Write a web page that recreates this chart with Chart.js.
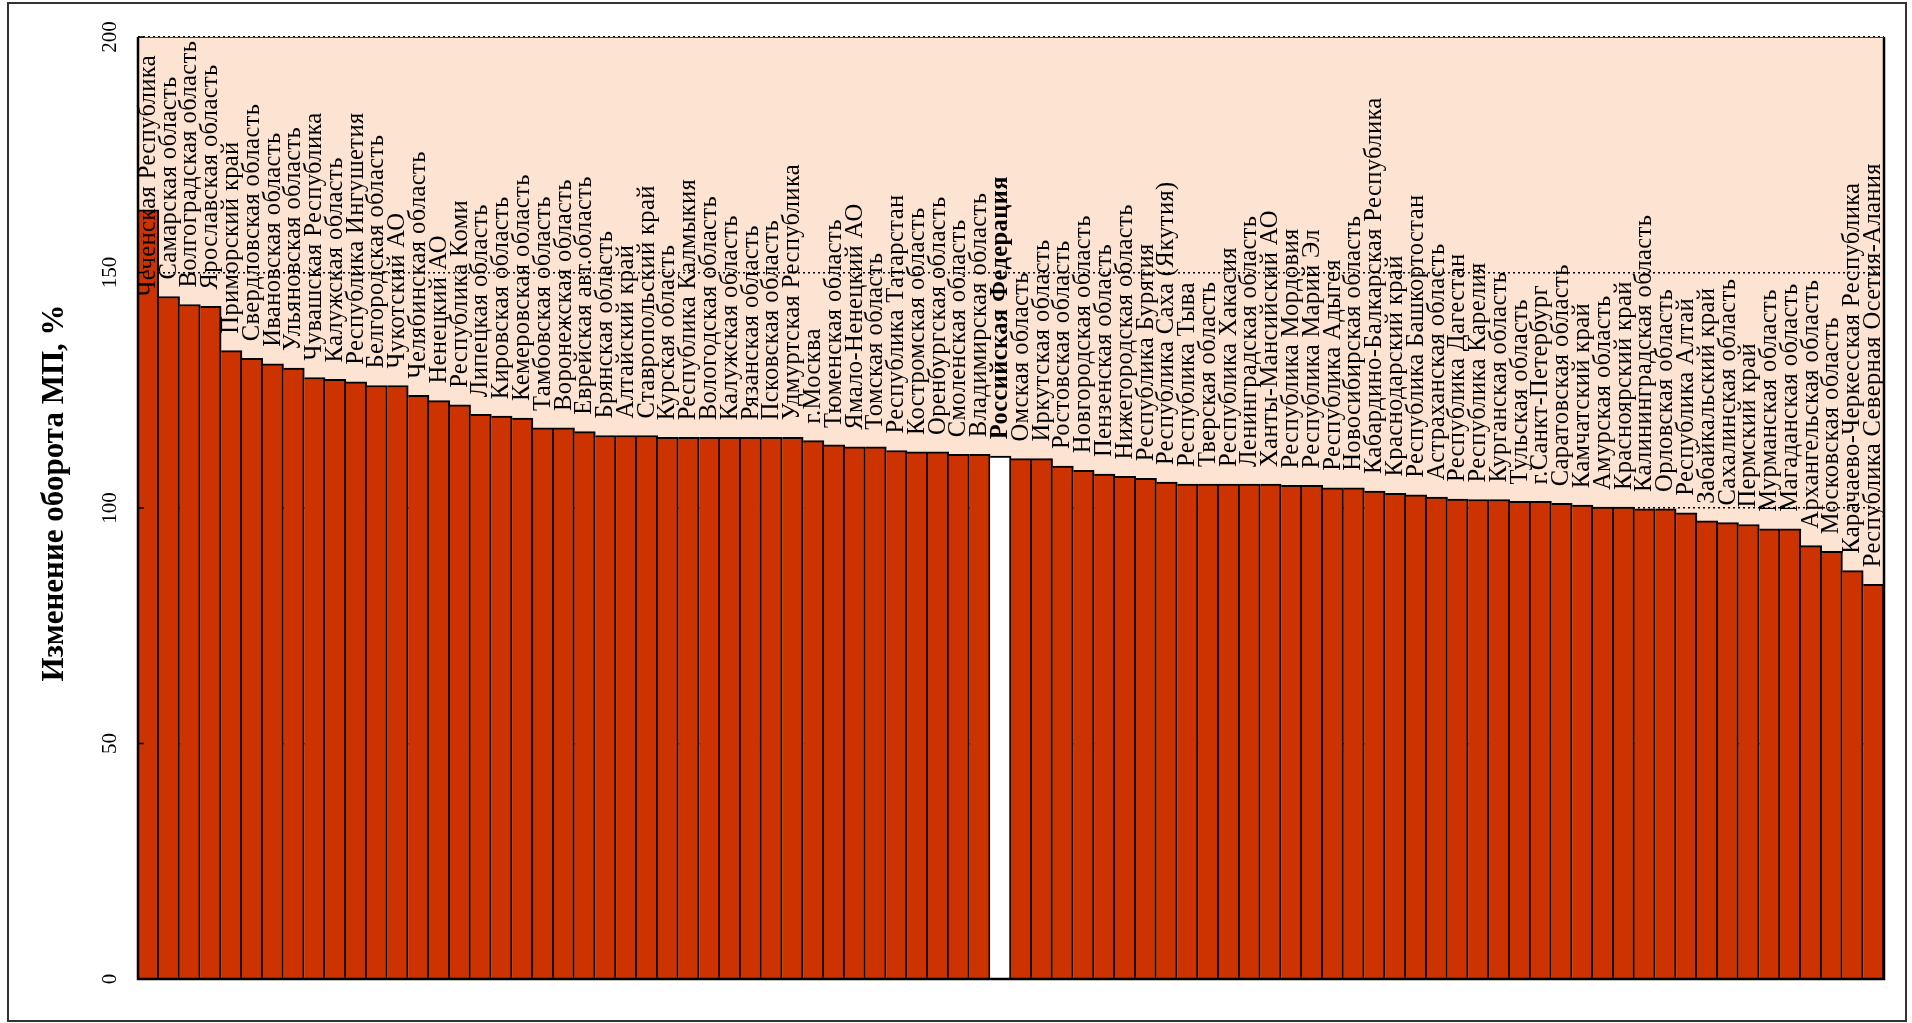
<!DOCTYPE html>
<html>
<head>
<meta charset="utf-8">
<script src="https://cdn.jsdelivr.net/npm/chart.js@4.4.1/dist/chart.umd.min.js"></script>
<style>
  html, body { margin: 0; padding: 0; background: #fff; }
  #wrap { width: 1912px; height: 1023px; position: relative; }
</style>
</head>
<body>
<div id="wrap"><canvas id="chart"></canvas></div>
<script>
// регионы, отсортированные по изменению оборота МП
const regions = [
  'Чеченская Республика', 'Самарская область', 'Волгоградская область', 'Ярославская область',
  'Приморский край', 'Свердловская область', 'Ивановская область', 'Ульяновская область',
  'Чувашская Республика', 'Калужская область', 'Республика Ингушетия', 'Белгородская область',
  'Чукотский АО', 'Челябинская область', 'Ненецкий АО', 'Республика Коми',
  'Липецкая область', 'Кировская область', 'Кемеровская область', 'Тамбовская область',
  'Воронежская область', 'Еврейская авт.область', 'Брянская область', 'Алтайский край',
  'Ставропольский край', 'Курская область', 'Республика Калмыкия', 'Вологодская область',
  'Калужская область', 'Рязанская область', 'Псковская область', 'Удмуртская Республика',
  'г.Москва', 'Тюменская область', 'Ямало-Ненецкий АО', 'Томская область',
  'Республика Татарстан', 'Костромская область', 'Оренбургская область', 'Смоленская область',
  'Владимирская область', 'Российская Федерация', 'Омская область', 'Иркутская область',
  'Ростовская область', 'Новгородская область', 'Пензенская область', 'Нижегородская область',
  'Республика Бурятия', 'Республика Саха (Якутия)', 'Республика Тыва', 'Тверская область',
  'Республика Хакасия', 'Ленинградская область', 'Ханты-Мансийский АО', 'Республика Мордовия',
  'Республика Марий Эл', 'Республика Адыгея', 'Новосибирская область', 'Кабардино-Балкарская Республика',
  'Краснодарский край', 'Республика Башкортостан', 'Астраханская область', 'Республика Дагестан',
  'Республика Карелия', 'Курганская область', 'Тульская область', 'г.Санкт-Петербург',
  'Саратовская область', 'Камчатский край', 'Амурская область', 'Красноярский край',
  'Калининградская область', 'Орловская область', 'Республика Алтай', 'Забайкальский край',
  'Сахалинская область', 'Пермский край', 'Мурманская область', 'Магаданская область',
  'Архангельская область', 'Московская область', 'Карачаево-Черкесская Республика', 'Республика Северная Осетия-Алания'
];

// изменение оборота МП, %
const turnoverChange = [
  163.3, 144.9, 143.2, 142.8, 133.4, 131.8, 130.6, 129.7, 127.7, 127.3,
  126.8, 126.0, 126.0, 123.9, 122.8, 121.9, 119.9, 119.5, 119.1, 117.0,
  117.0, 116.2, 115.4, 115.4, 115.4, 115.0, 115.0, 115.0, 115.0, 115.0,
  115.0, 115.0, 114.3, 113.4, 113.0, 113.0, 112.2, 111.9, 111.9, 111.4,
  111.4, 111.0, 110.5, 110.5, 108.9, 108.0, 107.2, 106.7, 106.3, 105.5,
  105.1, 105.1, 105.1, 105.1, 105.1, 104.8, 104.8, 104.3, 104.3, 103.6,
  103.1, 102.8, 102.3, 101.9, 101.8, 101.8, 101.4, 101.4, 101.0, 100.6,
  100.2, 100.2, 99.8, 99.8, 99.0, 97.3, 96.9, 96.5, 95.6, 95.6,
  92.0, 90.8, 86.7, 83.8
];

const yTickValues = [0, 50, 100, 150, 200];
const yTitle = 'Изменение оборота МП, %';
const totalLabel = 'Российская Федерация';

const FONT = '"Liberation Serif", "Times New Roman", serif';

const decorPlugin = {
  id: 'decor',
  beforeDraw(chart) {
    const { ctx, chartArea: a, width, height } = chart;
    ctx.save();
    ctx.fillStyle = '#fff';
    ctx.fillRect(0, 0, width, height);
    ctx.fillStyle = '#FCE3D2';
    ctx.fillRect(a.left, a.top, a.right - a.left, a.bottom - a.top);
    ctx.strokeStyle = '#333';
    ctx.lineWidth = 2;
    ctx.strokeRect(8, 3, width - 14, height - 5);
    ctx.restore();
  },
  afterDatasetsDraw(chart) {
    const { ctx, chartArea: a } = chart;
    const y = chart.scales.y;
    const meta = chart.getDatasetMeta(0);
    ctx.save();

    // рамка области построения
    ctx.strokeStyle = '#000';
    ctx.lineWidth = 2.5;
    ctx.beginPath();
    ctx.moveTo(a.left, a.top);
    ctx.lineTo(a.left, a.bottom);
    ctx.lineTo(a.right, a.bottom);
    ctx.lineTo(a.right, a.top);
    ctx.stroke();
    ctx.lineWidth = 1;
    ctx.strokeStyle = '#444';
    ctx.beginPath();
    ctx.moveTo(a.left, a.top + 0.5);
    ctx.lineTo(a.right, a.top + 0.5);
    ctx.stroke();

    // засечки и подписи оси Y
    ctx.lineWidth = 1.5;
    ctx.strokeStyle = '#000';
    ctx.fillStyle = '#000';
    ctx.font = '21px ' + FONT;
    ctx.textAlign = 'center';
    ctx.textBaseline = 'middle';
    y.ticks.forEach(t => {
      const py = y.getPixelForValue(t.value);
      ctx.beginPath();
      ctx.moveTo(a.left, py);
      ctx.lineTo(a.left + 6, py);
      ctx.stroke();
      ctx.save();
      ctx.translate(a.left - 28, py);
      ctx.rotate(-Math.PI / 2);
      ctx.fillText(String(t.value), 0, 0);
      ctx.restore();
    });

    // заголовок оси
    ctx.save();
    ctx.font = 'bold 31px ' + FONT;
    ctx.translate(55, (a.top + a.bottom) / 2 - 15);
    ctx.rotate(-Math.PI / 2);
    ctx.fillText(yTitle, 0, 0);
    ctx.restore();

    // подписи столбцов
    ctx.textAlign = 'left';
    ctx.textBaseline = 'middle';
    ctx.letterSpacing = '0.4px';
    meta.data.forEach((bar, i) => {
      const label = regions[i];
      ctx.font = (label === totalLabel ? 'bold ' : '') + '24.5px ' + FONT;
      const w = ctx.measureText(label).width;
      let start = bar.y - 17;
      if (start - w < a.top) start = a.top + 18 + w;
      ctx.save();
      ctx.translate(bar.x, start);
      ctx.rotate(-Math.PI / 2);
      ctx.fillText(label, 0, 0);
      ctx.restore();
    });
    ctx.restore();
  }
};

new Chart(document.getElementById('chart'), {
  type: 'bar',
  data: {
    labels: regions,
    datasets: [{
      data: turnoverChange,
      backgroundColor: regions.map(r => r === totalLabel ? '#FFFFFF' : '#CC3300'),
      borderColor: '#000',
      borderWidth: { top: 2, right: 2, left: 0, bottom: 0 },
      borderSkipped: false,
      barPercentage: 1,
      categoryPercentage: 1
    }]
  },
  options: {
    responsive: true,
    maintainAspectRatio: false,
    animation: false,
    events: [],
    layout: { padding: { left: 138, top: 37, right: 28, bottom: 44 } },
    plugins: { legend: { display: false }, tooltip: { enabled: false }, title: { display: false } },
    scales: {
      x: { display: false },
      y: {
        min: 0,
        max: 200,
        afterBuildTicks: s => { s.ticks = yTickValues.map(v => ({ value: v })); },
        afterFit: s => { s.width = 0; },
        ticks: { display: false },
        grid: { color: '#000', lineWidth: 1.5, drawTicks: false },
        border: { display: false, dash: [2, 3] }
      }
    }
  },
  plugins: [decorPlugin]
});
</script>
</body>
</html>
